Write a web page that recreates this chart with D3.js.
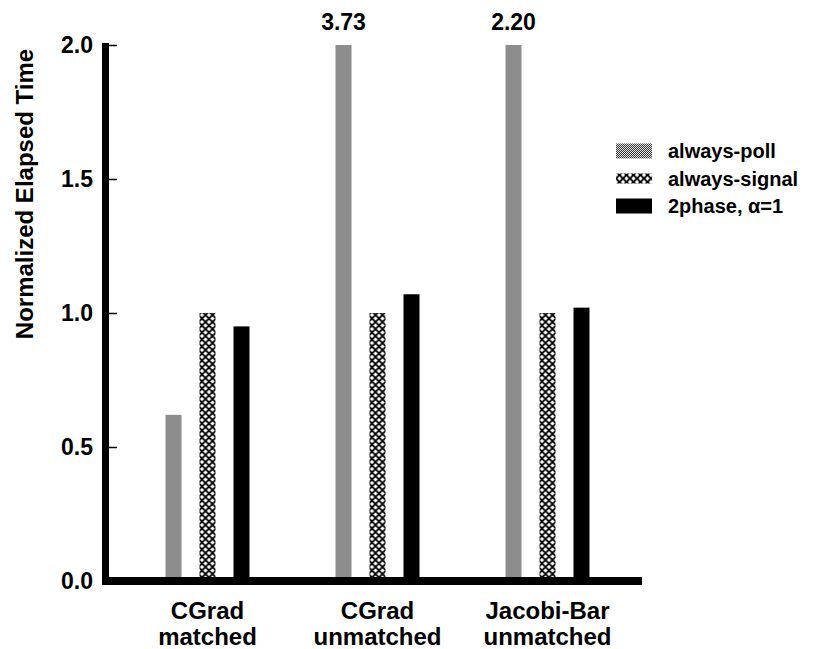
<!DOCTYPE html>
<html lang="en">
<head>
<meta charset="utf-8">
<script src="https://d3js.org/d3.v7.min.js"></script>
<style>
body { margin: 0; background: #fff; }
#chart text {
    font-family: "Liberation Sans", Arial, Helvetica, sans-serif;
    font-weight: bold;
    fill: #000;
}
.tick line { stroke: #000; stroke-width: 1.5; }
</style>
</head>
<body>
<div id="chart"></div>
<script>
// data
var categories = ["CGrad\nmatched", "CGrad\nunmatched", "Jacobi-Bar\nunmatched"];
var seriesNames = ["always-poll", "always-signal", "2phase, \u03b1=1"];
var pollValues = [0.62, 3.73, 2.20];
var signalValues = [1.00, 1.00, 1.00];
var twoPhaseValues = [0.95, 1.07, 1.02];
var yTicks = [0, 0.5, 1.0, 1.5, 2.0];

var width = 817, height = 649;
var yMax = 2.0;

var svg = d3.select("#chart").append("svg")
    .attr("width", width)
    .attr("height", height);

var defs = svg.append("defs");

// fine stipple for always-poll
var pp = defs.append("pattern")
    .attr("id", "pat-poll")
    .attr("patternUnits", "userSpaceOnUse")
    .attr("width", 2).attr("height", 2);
pp.append("rect").attr("width", 2).attr("height", 2).attr("fill", "#e6e6e6");
pp.append("rect").attr("width", 1).attr("height", 1).attr("fill", "#333");
pp.append("rect").attr("x", 1).attr("y", 1).attr("width", 1).attr("height", 1).attr("fill", "#333");

// crosshatch for always-signal
var ps = defs.append("pattern")
    .attr("id", "pat-signal")
    .attr("patternUnits", "userSpaceOnUse")
    .attr("width", 7).attr("height", 7);
ps.append("rect").attr("width", 7).attr("height", 7).attr("fill", "#fff");
ps.append("path")
    .attr("d", "M-1,-1L8,8M8,-1L-1,8")
    .attr("stroke", "#000")
    .attr("stroke-width", 1.8);

var fills = ["url(#pat-poll)", "url(#pat-signal)", "#000"];

var y = d3.scaleLinear()
    .domain([0, yMax])
    .range([581, 45]);

var x0 = d3.scaleBand()
    .domain(categories)
    .range([122.5, 632.5]);

var x1 = d3.scaleBand()
    .domain(seriesNames)
    .range([0, x0.bandwidth() * 0.6])
    .paddingInner(0.53)
    .paddingOuter(0.265);

var innerOffset = (x0.bandwidth() - x1.range()[1]) / 2;

var rows = categories.map(function (c, i) {
    return {
        cat: c,
        values: [pollValues[i], signalValues[i], twoPhaseValues[i]]
    };
});

// y axis ticks (pointing inward) and labels
var yAxis = d3.axisLeft(y)
    .tickValues(yTicks)
    .tickFormat(d3.format(".1f"))
    .tickSizeInner(-8)
    .tickSizeOuter(0)
    .tickPadding(16);

var gy = svg.append("g")
    .attr("transform", "translate(109,0)")
    .call(yAxis);
gy.select(".domain").remove();
gy.selectAll("text").style("font-size", "23px");

// bars
var group = svg.selectAll(".group")
    .data(rows)
    .enter().append("g")
    .attr("class", "group")
    .attr("transform", function (d) { return "translate(" + (x0(d.cat) + innerOffset) + ",0)"; });

group.selectAll("rect")
    .data(function (d) {
        return d.values.map(function (v, j) { return { name: seriesNames[j], value: v, idx: j }; });
    })
    .enter().append("rect")
    .attr("x", function (d) { return x1(d.name); })
    .attr("width", x1.bandwidth())
    .attr("y", function (d) { return y(Math.min(d.value, yMax)); })
    .attr("height", function (d) { return y(0) - y(Math.min(d.value, yMax)); })
    .attr("fill", function (d) { return fills[d.idx]; });

// values that run off the top
group.selectAll(".over")
    .data(function (d) {
        return d.values.map(function (v, j) { return { name: seriesNames[j], value: v }; })
            .filter(function (e) { return e.value > yMax; });
    })
    .enter().append("text")
    .attr("class", "over")
    .attr("x", function (d) { return x1(d.name) + x1.bandwidth() / 2; })
    .attr("y", 30)
    .attr("text-anchor", "middle")
    .style("font-size", "23px")
    .text(function (d) { return d3.format(".2f")(d.value); });

// thick axis lines
svg.append("rect")
    .attr("x", 102).attr("y", 43)
    .attr("width", 7).attr("height", 542)
    .attr("fill", "#000");
svg.append("rect")
    .attr("x", 102).attr("y", 577)
    .attr("width", 540).attr("height", 8)
    .attr("fill", "#000");

// category labels
var catLabel = svg.selectAll(".cat")
    .data(categories)
    .enter().append("text")
    .attr("class", "cat")
    .attr("text-anchor", "middle")
    .attr("x", function (d) { return x0(d) + x0.bandwidth() / 2; })
    .attr("y", 619)
    .style("font-size", "24px");
catLabel.selectAll("tspan")
    .data(function (d) { return d.split("\n"); })
    .enter().append("tspan")
    .attr("x", function () { return d3.select(this.parentNode).attr("x"); })
    .attr("dy", function (d, i) { return i ? 26 : 0; })
    .text(function (d) { return d; });

// y axis title
svg.append("text")
    .attr("transform", "translate(33,194) rotate(-90)")
    .attr("text-anchor", "middle")
    .style("font-size", "24px")
    .text("Normalized Elapsed Time");

// legend
var legend = svg.selectAll(".legend")
    .data(seriesNames)
    .enter().append("g")
    .attr("class", "legend")
    .attr("transform", function (d, i) { return "translate(616," + (151 + i * 27.5) + ")"; });

legend.append("rect")
    .attr("y", function (d, i) { return i === 1 ? -5 : -7.5; })
    .attr("width", 36)
    .attr("height", function (d, i) { return i === 1 ? 10 : 15; })
    .attr("fill", function (d, i) { return fills[i]; });

legend.append("text")
    .attr("x", 52)
    .attr("y", 7)
    .style("font-size", "20px")
    .text(function (d) { return d; });
</script>
</body>
</html>
